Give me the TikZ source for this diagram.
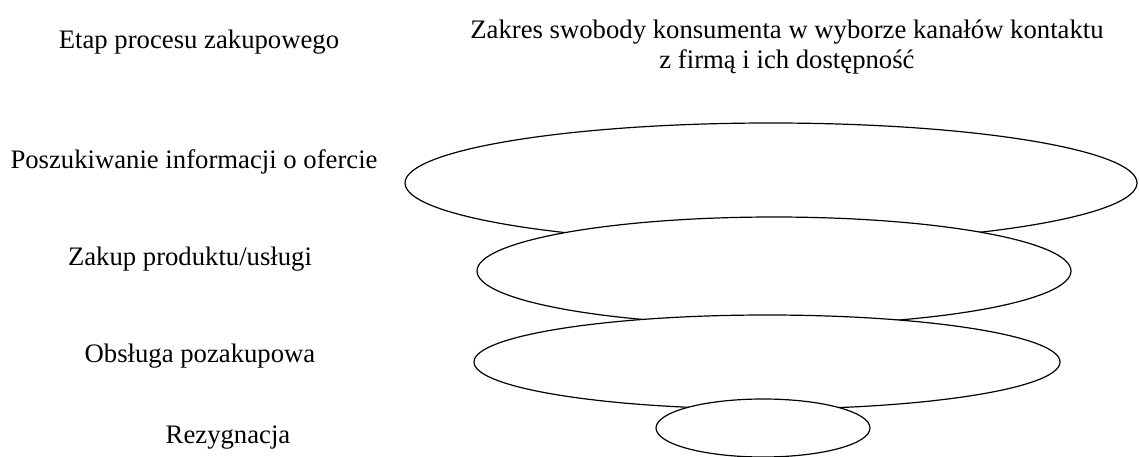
\documentclass[tikz,border=0pt]{standalone}
\usepackage{fontspec}
\setmainfont{Liberation Serif}
\usetikzlibrary{positioning}
\tikzset{
  label/.style={font=\fontsize{26.7}{30}\selectfont, align=center, inner sep=0pt},
  funnel/.style={draw=black, line width=1.2pt, fill=white}
}

\begin{document}
\begin{tikzpicture}[x=1pt,y=-1pt]
			%%%%% START %%%%%
			\useasboundingbox (0, 0) rectangle (1139, 457);
			
			\node[label] (etap) at (199, 42) {Etap procesu zakupowego};
			\node[label] (zakres) at (787, 47) {Zakres swobody konsumenta w wyborze kanałów kontaktu\\z firmą i ich dostępność};
			
			\draw[funnel] (771, 183) ellipse (366 and 60);
			\draw[funnel] (774, 271) ellipse (297 and 54);
			\draw[funnel] (767, 362) ellipse (293 and 47);
			\draw[funnel] (763, 428) ellipse (107 and 29);
			
			\node[label] (szukanie) at (194, 162) {Poszukiwanie informacji o ofercie};
			\node[label] (zakup) at (190, 259) {Zakup produktu/usługi};
			\node[label] (obsluga) at (200, 356) {Obsługa pozakupowa};
			\node[label] (rezygnacja) at (228, 438) {Rezygnacja};
			
			%%%%% END %%%%%
\end{tikzpicture}
\end{document}
